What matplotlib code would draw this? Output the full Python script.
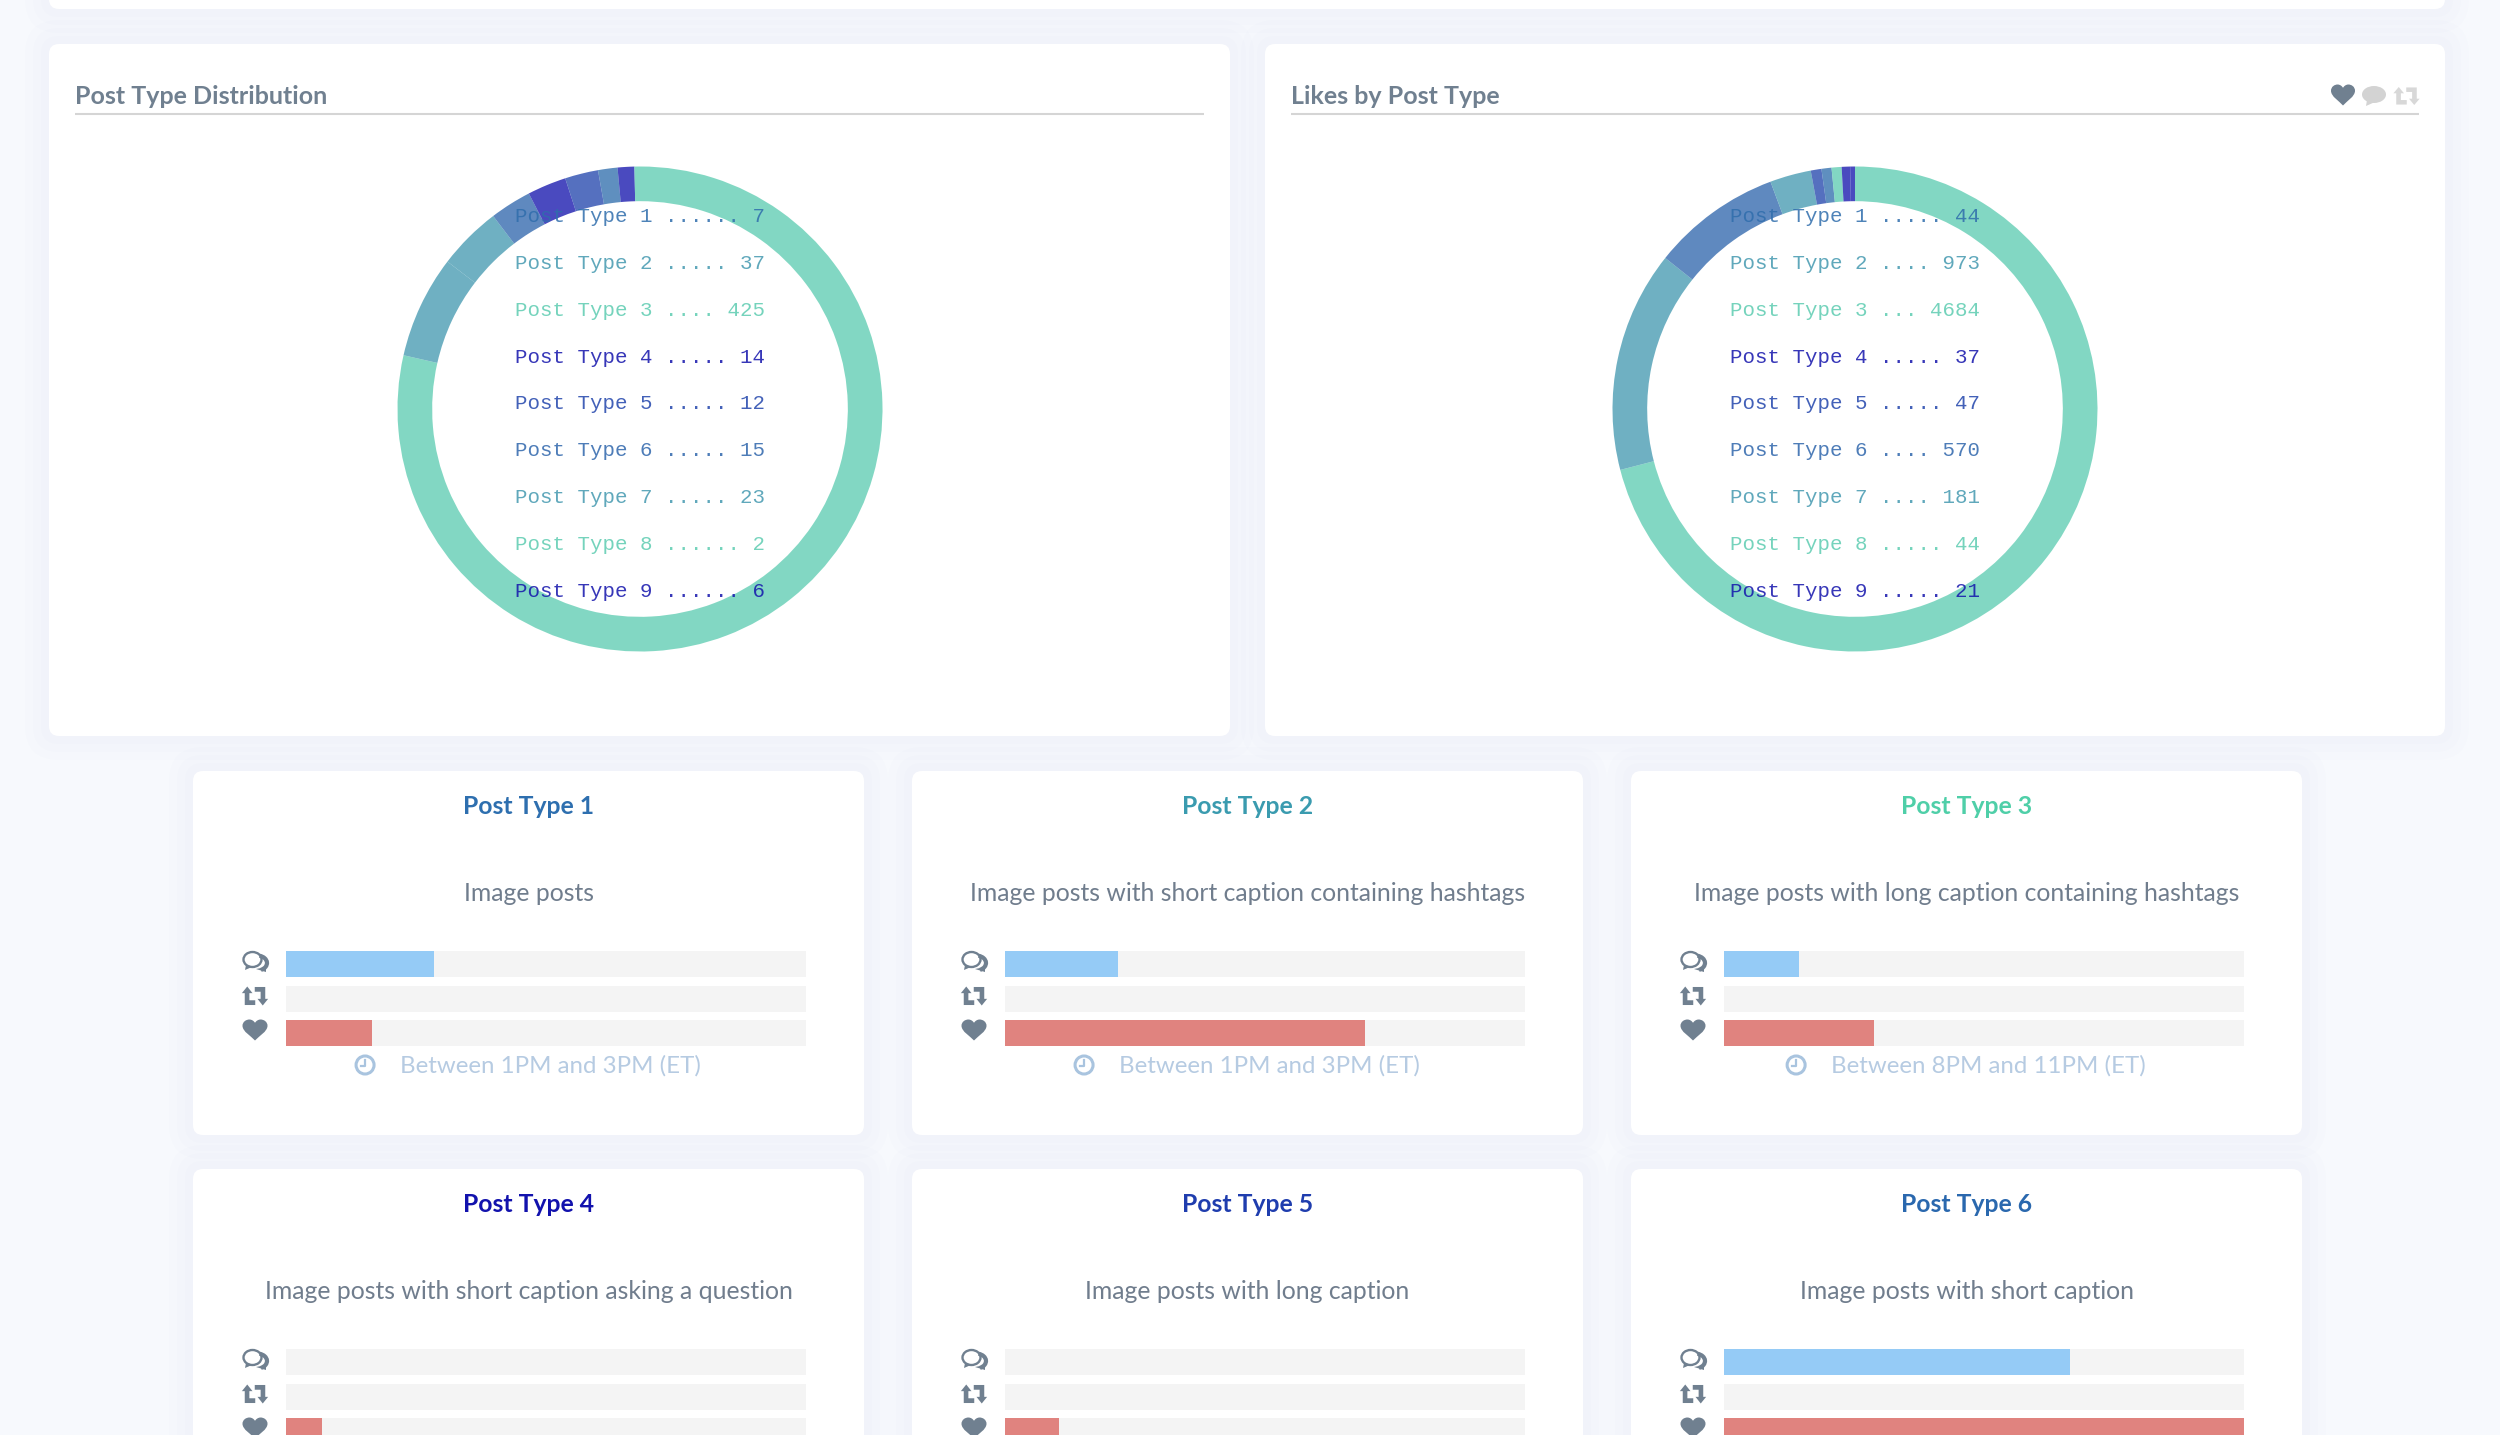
#!/usr/bin/env python3
"""Post type dashboard: two donuts and a grid of post type cards."""

import matplotlib

matplotlib.use("Agg")
import matplotlib.pyplot as plt
from matplotlib.patches import Arc, Circle, Ellipse, FancyBboxPatch, PathPatch, Polygon
from matplotlib.path import Path

W, H = 2500, 1435

POST_TYPES = [f"Post Type {i}" for i in range(1, 10)]
POST_COUNTS = [7, 37, 425, 14, 12, 15, 23, 2, 6]
POST_LIKES = [44, 973, 4684, 37, 47, 570, 181, 44, 21]
TYPE_COLORS = [
    "#2F6DAC", "#4499B0", "#5DCCB1", "#1414AC", "#2245AC",
    "#2F66AC", "#4499B0", "#5DCCB1", "#1414AC",
]

CARD_TITLES = POST_TYPES[:6]
CARD_TITLE_COLORS = ["#2E6FAF", "#3A9BAF", "#4FCFA8", "#1212AD", "#1F3DAE", "#2A68AE"]
CARD_TEXT = [
    "Image posts",
    "Image posts with short caption containing hashtags",
    "Image posts with long caption containing hashtags",
    "Image posts with short caption asking a question",
    "Image posts with long caption",
    "Image posts with short caption",
]
CARD_TIMES = [
    "Between 1PM and 3PM (ET)",
    "Between 1PM and 3PM (ET)",
    "Between 8PM and 11PM (ET)",
    None,
    None,
    None,
]
# percent of the track: comments, retweets, likes
COMMENT_SHARE = [28.5, 21.8, 14.4, 0, 0, 66.6]
RETWEET_SHARE = [0, 0, 0, 0, 0, 0]
LIKE_SHARE = [16.5, 69.3, 28.8, 6.9, 10.4, 100]

BG = "#F7F9FD"
SLATE = "#708090"
TRACK = "#F4F4F4"
BLUE = "#95CBF6"
RED = "#E0837F"
FAINT = "#B6CBE2"
SANS = "Lato"
MONO = "Liberation Mono"


def px_axes(x, y, w, h, zorder=1):
    ax = fig.add_axes([x / W, 1 - (y + h) / H, w / W, h / H], zorder=zorder)
    ax.set_axis_off()
    return ax


def card(x0, y0, x1, y1):
    for grow in (24, 16, 8):
        base.add_patch(
            FancyBboxPatch(
                (x0 - grow, y0 - grow), x1 - x0 + 2 * grow, y1 - y0 + 2 * grow,
                boxstyle=f"round,pad=0,rounding_size={10 + grow}",
                fc="#6088E0", ec="none", alpha=0.012,
            )
        )
    base.add_patch(
        FancyBboxPatch(
            (x0, y0), x1 - x0, y1 - y0, boxstyle="round,pad=0,rounding_size=10",
            fc="white", ec="none",
        )
    )


def heart(cx, cy, rx, ry, color):
    pts = [
        (0, 1), (-0.3, 0.6), (-1, 0.15), (-1, -0.4), (-1, -0.8), (-0.7, -1), (-0.45, -1),
        (-0.25, -1), (-0.08, -0.85), (0, -0.68), (0.08, -0.85), (0.25, -1), (0.45, -1),
        (0.7, -1), (1, -0.8), (1, -0.4), (1, 0.15), (0.3, 0.6), (0, 1), (0, 1),
    ]
    codes = [Path.MOVETO] + [Path.CURVE4] * 18 + [Path.CLOSEPOLY]
    verts = [(cx + a * rx, cy + b * ry) for a, b in pts]
    base.add_patch(PathPatch(Path(verts, codes), fc=color, ec="none", zorder=3))


def retweet(cx, cy, rx, ry, color):
    half = [
        (-0.62, -1), (-0.2, -0.3), (-0.45, -0.3), (-0.45, 0.45), (0.02, 0.45),
        (0.02, 0.95), (-0.82, 0.95), (-0.82, -0.3), (-1.05, -0.3),
    ]
    for sign in (1, -1):
        verts = [(cx + sign * a * rx, cy + sign * b * ry) for a, b in half]
        base.add_patch(Polygon(verts, fc=color, ec="none", zorder=3))


def comments(cx, cy, color):
    base.add_patch(Ellipse((cx - 2.5, cy - 2.5), 18, 15, fc="none", ec=color, lw=1.7, zorder=3))
    base.add_patch(Polygon([(cx - 9, cy + 3), (cx - 10, cy + 8), (cx - 3, cy + 5)], fc=color, ec="none", zorder=3))
    base.add_patch(Arc((cx + 2, cy + 1), 20, 15, theta1=-70, theta2=60, ec=color, lw=3, zorder=3))
    base.add_patch(Polygon([(cx + 11, cy + 5), (cx + 11, cy + 10), (cx + 1, cy + 7)], fc=color, ec="none", zorder=3))


def bubble(cx, cy, color):
    base.add_patch(Ellipse((cx, cy - 1.5), 24, 17, fc=color, ec="none", zorder=3))
    base.add_patch(Polygon([(cx - 7, cy + 4), (cx - 8, cy + 10), (cx + 1, cy + 6)], fc=color, ec="none", zorder=3))


def clock(cx, cy):
    base.add_patch(Circle((cx, cy), 9, fc="none", ec="#A9C4DF", lw=2.2, zorder=3))
    base.plot([cx, cx, cx - 4], [cy - 5, cy + 1, cy + 1], color="#A9C4DF", lw=1.6, zorder=3)


def donut(center_x, values):
    order = sorted(range(len(values)), key=lambda i: -values[i])
    ax = px_axes(center_x - 242.5, 166.5, 485, 485, zorder=1)
    ax.pie(
        [values[i] for i in order],
        colors=[TYPE_COLORS[i] for i in order],
        startangle=90,
        counterclock=False,
        radius=1,
        wedgeprops={"width": 0.143, "edgecolor": "none", "alpha": 0.77},
    )
    ax.set_xlim(-1, 1)
    ax.set_ylim(-1, 1)
    left = center_x - 125
    for i, (label, value) in enumerate(zip(POST_TYPES, values)):
        number = str(value)
        dots = "." * (20 - len(label) - 2 - len(number))
        top.text(
            left, 222 + i * 46.85, f"{label} {dots} {number}", family=MONO, fontsize=14.95,
            color=TYPE_COLORS[i], alpha=0.85, va="baseline", ha="left",
        )


def panel(x0, x1, title):
    card(x0, 44, x1, 736)
    base.text(x0 + 26, 103.5, title, family=SANS, fontweight="bold", fontsize=18, color=SLATE, va="baseline")
    base.plot([x0 + 26, x1 - 26], [113.7, 113.7], color="#D5D5D5", lw=1.5, solid_capstyle="butt", zorder=2)


def type_card(index, x0, y0):
    x1 = x0 + 671
    center = (x0 + x1) / 2
    card(x0, y0, x1, y0 + 364)
    base.text(center, y0 + 43, CARD_TITLES[index], family=SANS, fontweight="bold", fontsize=17.8,
              color=CARD_TITLE_COLORS[index], ha="center", va="baseline")
    base.text(center, y0 + 130, CARD_TEXT[index], family=SANS, fontsize=17.85, color="#707D8D",
              ha="center", va="baseline")

    ax = px_axes(x0 + 93, y0 + 175.7, 519.5, 103.9, zorder=1)
    rows = [0, 1, 2]
    shares = [COMMENT_SHARE[index], RETWEET_SHARE[index], LIKE_SHARE[index]]
    ax.barh(rows, [100, 100, 100], height=0.75, color=TRACK)
    ax.barh(rows, shares, height=0.75, color=[BLUE, BLUE, RED])
    ax.set_xlim(0, 100)
    ax.set_ylim(2.5, -0.5)
    ax.set_axis_off()

    comments(x0 + 62, y0 + 191, SLATE)
    retweet(x0 + 62, y0 + 225, 12.5, 9.5, SLATE)
    heart(x0 + 62, y0 + 259, 12.5, 10.5, SLATE)

    if CARD_TIMES[index]:
        label = base.text(center + 22, y0 + 302, CARD_TIMES[index], family=SANS, fontsize=17.3,
                          color=FAINT, ha="center", va="baseline")
        box = label.get_window_extent(fig.canvas.get_renderer())
        clock(box.x0 - 35, y0 + 294)


fig = plt.figure(figsize=(W / 100, H / 100), dpi=100, facecolor=BG)
base = fig.add_axes([0, 0, 1, 1], zorder=0)
base.set_xlim(0, W)
base.set_ylim(H, 0)
base.set_axis_off()
base.set_autoscale_on(False)
top = fig.add_axes([0, 0, 1, 1], zorder=5)
top.set_xlim(0, W)
top.set_ylim(H, 0)
top.set_axis_off()

# the card cut off by the top edge
card(49, -60, 2445, 9)

panel(49, 1230, "Post Type Distribution")
panel(1265, 2445, "Likes by Post Type")
heart(2343, 95, 12, 10.5, SLATE)
bubble(2374, 96, "#D3D3D3")
retweet(2406.5, 96, 12.5, 9, "#D8D8D8")

donut(640, POST_COUNTS)
donut(1855, POST_LIKES)

card_x = [193, 912, 1631]
card_y = [771, 1169]
for row, y in enumerate(card_y):
    for col, x in enumerate(card_x):
        type_card(row * 3 + col, x, y)

fig.savefig("out.png", dpi=100, facecolor=BG)
